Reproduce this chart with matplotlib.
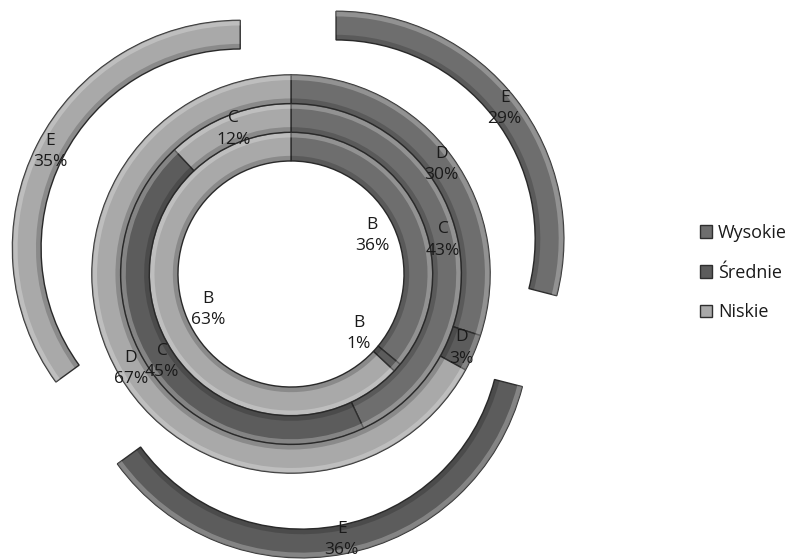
import matplotlib
matplotlib.use('Agg')
import matplotlib.pyplot as plt
import numpy as np

# dane
pierscienie = ['B', 'C', 'D', 'E']
serie = ['Wysokie', 'Średnie', 'Niskie']
wysokie = [36, 43, 30, 29]
srednie = [1, 45, 3, 36]
niskie = [63, 12, 67, 35]

kolory = ['#6e6e6e', '#5c5c5c', '#a9a9a9']
krawedz = '#2e2e2e'

plt.rcParams['font.family'] = ['Open Sans', 'DejaVu Sans']

fig = plt.figure(figsize=(7.93, 5.6), dpi=100)
ax = fig.add_axes([0, 0, 1, 1])

# promienie pierscieni (D zewnetrzny = 1.0)
r_wew = 0.565
szer = 0.1435
wybuch_E = 0.285
r_etykiet = [0.45, 0.78, 0.93, None]

wedges_legenda = None
for i, nazwa in enumerate(pierscienie):
    wartosci = [wysokie[i], srednie[i], niskie[i]]
    r = r_wew + szer * (i + 1)
    explode = [wybuch_E] * 3 if nazwa == 'E' else None
    wedges, _ = ax.pie(wartosci, radius=r, startangle=90, counterclock=False,
                       colors=kolory, explode=explode,
                       wedgeprops=dict(width=szer, edgecolor=krawedz, linewidth=1.0))
    # delikatny efekt wypuklosci
    for w in wedges:
        c = w.center
        for frac, col, a in [(0.0, 'white', 0.25), (0.82, 'black', 0.18)]:
            ax.add_patch(matplotlib.patches.Wedge(c, r - frac * szer, w.theta1, w.theta2,
                                                  width=szer * 0.18, facecolor=col,
                                                  edgecolor='none', alpha=a))
    if wedges_legenda is None:
        wedges_legenda = wedges

    # etykiety
    suma = sum(wartosci)
    kumul = 0
    for v in wartosci:
        kat = (kumul + v / 2) / suma * 360  # od gory, zgodnie z ruchem wskazowek
        kumul += v
        if nazwa == 'E':
            re = wybuch_E + r - szer / 2
        else:
            re = r_etykiet[i]
        x = re * np.sin(np.radians(kat))
        y = re * np.cos(np.radians(kat))
        ax.text(x, y, f'{nazwa}\n{v}%', ha='center', va='center', fontsize=12.5,
                color='#1a1a1a', linespacing=1.45)

skala = 200.0
cx, cy = 291, 274
ax.set_xlim(-cx / skala, (793 - cx) / skala)
ax.set_ylim(-(560 - cy) / skala, cy / skala)
ax.set_aspect('equal')
ax.axis('off')

leg = ax.legend(wedges_legenda, serie, loc='center left', bbox_to_anchor=(0.862, 0.513),
                bbox_transform=fig.transFigure, frameon=False, fontsize=13,
                handlelength=0.7, handleheight=0.7, handletextpad=0.3, labelspacing=1.2)
for t in leg.get_texts():
    t.set_color('#1a1a1a')

fig.savefig('out.png', dpi=100)
